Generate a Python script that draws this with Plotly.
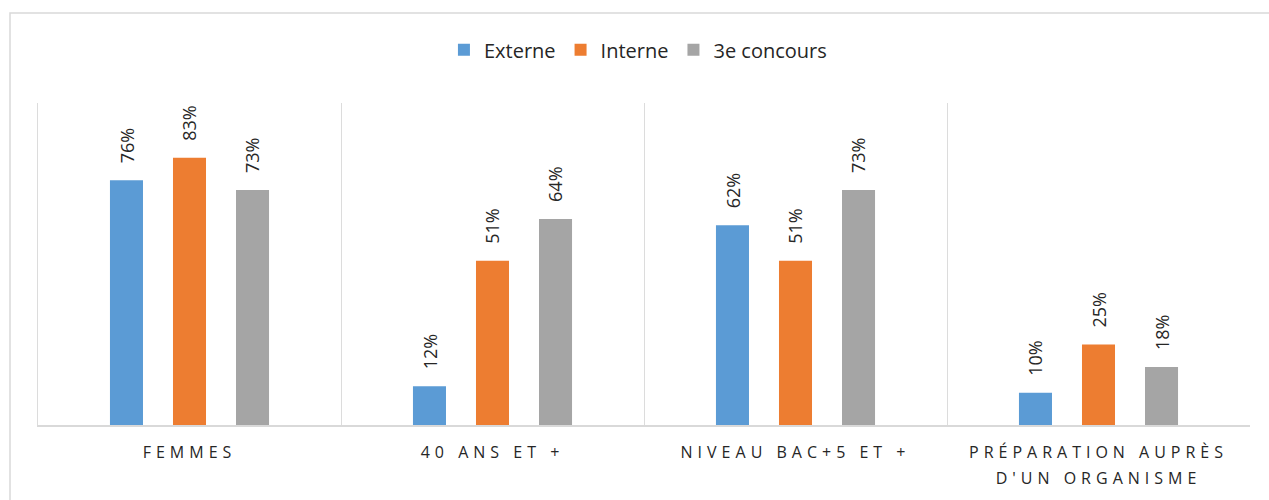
import plotly.graph_objects as go

categories = ["FEMMES", "40 ANS ET +", "NIVEAU BAC+5 ET +", "PRÉPARATION AUPRÈS<br>D'UN ORGANISME"]
series_names = ["Externe", "Interne", "3e concours"]
externe = [76, 12, 62, 10]
interne = [83, 51, 51, 25]
concours3 = [73, 64, 73, 18]
series_values = [externe, interne, concours3]
colors = ["#5B9BD5", "#ED7D31", "#A5A5A5"]

W, H = 1269, 500
ML, MR, MT, MB = 38, 19, 103, 75
BARGAP = 0.376
BARGROUPGAP = 0.476

fig = go.Figure()
for name, vals, col in zip(series_names, series_values, colors):
    fig.add_trace(go.Bar(
        x=categories, y=vals, name=name,
        marker=dict(color=col, line=dict(width=0)),
        hoverinfo="skip",
    ))

# data labels as rotated annotations above each bar
plot_w = W - ML - MR
slot = plot_w / len(categories) * (1 - BARGAP) / len(series_names)
for i, vals in enumerate(series_values):
    shift = (i - (len(series_names) - 1) / 2) * slot
    for cat, v in zip(categories, vals):
        fig.add_annotation(
            x=cat, y=v, xref="x", yref="y",
            text=f"{v}%", showarrow=False, textangle=-90,
            xanchor="center", yanchor="bottom", xshift=shift, yshift=15,
            font=dict(family="Open Sans", size=18, color="#262626"),
        )

# outer chart border
fig.add_shape(type="rect", xref="paper", yref="paper",
              x0=(10 - ML) / plot_w, x1=(W + 5 - ML) / plot_w,
              y0=-(MB + 10) / (H - MT - MB), y1=(H - MB - 13) / (H - MT - MB),
              line=dict(color="#d9d9d9", width=1.5), layer="below")

fig.update_layout(
    width=W, height=H,
    margin=dict(l=ML, r=MR, t=MT, b=MB, pad=0),
    paper_bgcolor="white", plot_bgcolor="white",
    barmode="group", bargap=BARGAP, bargroupgap=BARGROUPGAP,
    showlegend=True,
    legend=dict(orientation="h", x=0.495, xanchor="center", y=1.165, yanchor="middle",
                font=dict(family="Open Sans", size=20, color="#262626"),
                itemsizing="constant", traceorder="normal"),
    font=dict(family="Open Sans"),
)
fig.update_xaxes(
    type="category", tickson="boundaries", showgrid=True, gridcolor="#dcdcdc", gridwidth=1,
    showline=True, linecolor="#d9d9d9", linewidth=1.5, ticks="", mirror=False,
    tickfont=dict(family="Open Sans", size=16, color="#262626"),
    ticklabelstandoff=12, range=[-0.5, 3.5],
)
fig.update_yaxes(range=[0, 100], visible=True, showticklabels=False, ticks="",
                 showgrid=False, zeroline=False,
                 showline=True, linecolor="#dcdcdc", linewidth=1)

fig.write_html("out.html", config={"displayModeBar": False}, post_script="""
document.body.style.margin='0';
document.querySelectorAll('.xtick text').forEach(function(t){
  t.style.letterSpacing='5px';
  t.querySelectorAll('tspan.line').forEach(function(s, i){ if(i>0){ s.setAttribute('dy','1.6em'); } });
});
""")
